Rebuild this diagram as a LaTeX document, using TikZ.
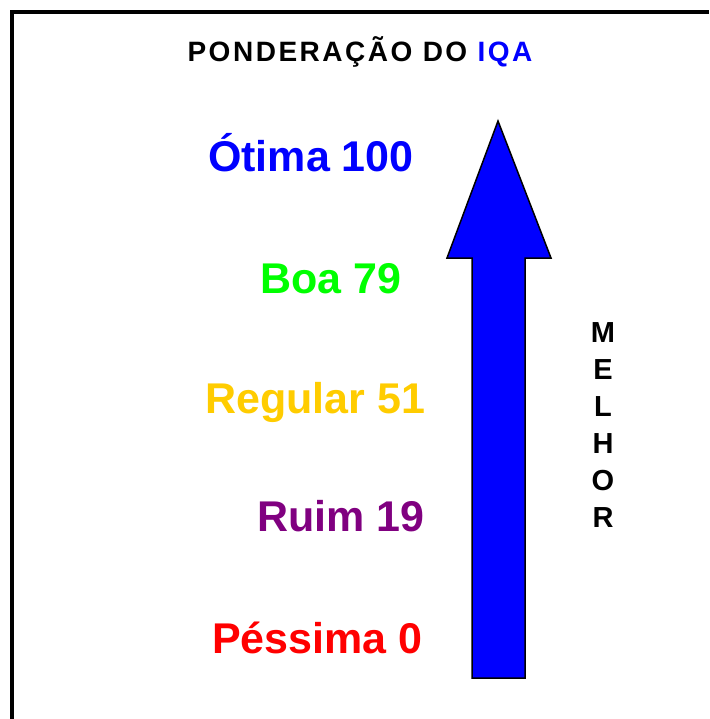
\documentclass[tikz,border=0pt]{standalone}
\usepackage{fontspec}
\setmainfont{Liberation Sans}
\definecolor{iqaBlue}{HTML}{0000FF}
\definecolor{iqaGreen}{HTML}{00FF00}
\definecolor{iqaGold}{HTML}{FFCC00}
\definecolor{iqaPurple}{HTML}{800080}
\definecolor{iqaRed}{HTML}{FF0000}
\usetikzlibrary{positioning}

\begin{document}
\begin{tikzpicture}[x=1pt, y=-1pt,
    level/.style={font=\fontsize{43}{48}\selectfont\bfseries, anchor=base west, inner sep=0pt}]
  \useasboundingbox (0,0) rectangle (709,719);

  % Frame
  \draw[line width=4pt] (12,719) -- (12,12) -- (709,12);

  % Title
  \node[font=\fontsize{28}{32}\selectfont\bfseries\addfontfeatures{LetterSpace=9}, anchor=base, inner sep=0pt] (title) at (360, 62)
    {PONDERAÇÃO DO \textcolor{iqaBlue}{IQA}};

  % Scale
  \node[level, text=iqaBlue]   (otima)   at (208, 172) {Ótima 100};
  \node[level, text=iqaGreen]  (boa)     at (260, 293) {Boa 79};
  \node[level, text=iqaGold]   (regular) at (205, 413) {Regular 51};
  \node[level, text=iqaPurple] (ruim)    at (257, 531) {Ruim 19};
  \node[level, text=iqaRed]    (pessima) at (212, 653) {Péssima 0};

  % Arrow
  \filldraw[fill=iqaBlue, draw=black, line width=1.5pt, line join=miter]
    (472,678) -- (472,258) -- (447,258) -- (498,121) -- (551,258)
    -- (525,258) -- (525,678) -- cycle;

  % Label
  \node[font=\fontsize{29}{37}\selectfont\bfseries, align=center, inner sep=0pt] (melhor) at (603, 425)
    {M\\E\\L\\H\\O\\R};
\end{tikzpicture}
\end{document}
